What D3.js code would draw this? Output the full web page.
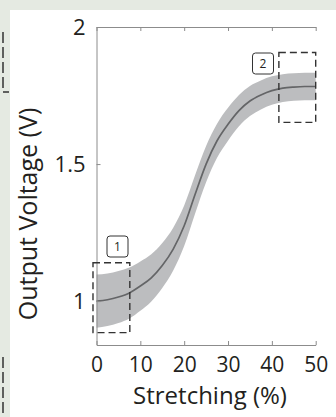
<!DOCTYPE html>
<html>
<head>
<meta charset="utf-8">
<script src="https://cdn.jsdelivr.net/npm/d3@7"></script>
<style>
  html, body { margin: 0; padding: 0; background: #e5eae2; }
  svg { display: block; }
  text { font-family: "Open Sans", sans-serif; fill: #231f20; }
</style>
</head>
<body>
<svg width="336" height="417"></svg>
<script>
// stretching (%) and measured output voltage (V), mean and +/- spread
var strain  = [0, 2.5, 5, 7.5, 10, 12.5, 15, 17.5, 20, 22.5, 25, 27.5, 30, 32.5, 35, 37.5, 40, 42.5, 45, 47.5, 50];
var voltage = [1.000, 1.005, 1.015, 1.030, 1.055, 1.085, 1.130, 1.190, 1.275, 1.390, 1.500, 1.585, 1.645, 1.695, 1.730, 1.752, 1.768, 1.777, 1.781, 1.783, 1.783];
var spread  = [0.097, 0.096, 0.095, 0.093, 0.090, 0.086, 0.082, 0.078, 0.074, 0.070, 0.066, 0.062, 0.060, 0.057, 0.055, 0.053, 0.052, 0.051, 0.050, 0.050, 0.050];

var xTicks = [0, 10, 20, 30, 40, 50];
var yTicks = [1, 1.5, 2];

// zoom boxes: [x0, x1, y0, y1] in data units, and their labels
var boxLabels = ["1", "2"];
var boxes = [[-0.8, 7.6, 0.885, 1.14], [41.6, 50, 1.652, 1.907]];

var svg = d3.select('svg');

// white panel over the greenish page
svg.append('rect').attr('x', 10).attr('y', 10).attr('width', 326).attr('height', 407).attr('fill', '#fff');

// bits of dashed frames from the neighbouring panel
svg.append('path')
  .attr('d', 'M3,32V92H9 M3,357V417')
  .attr('fill', 'none').attr('stroke', '#333').attr('stroke-width', 1.5)
  .attr('stroke-dasharray', '11,4');

var x = d3.scaleLinear().domain([0, 50]).range([96.5, 315.7]);
var y = d3.scaleLinear().domain([0.84, 2]).range([345, 27]);

var data = strain.map(function(s, i){ return {s: s, v: voltage[i], e: spread[i]}; });

var band = d3.area()
  .x(function(d){ return x(d.s) })
  .y0(function(d){ return y(d.v - d.e) })
  .y1(function(d){ return y(d.v + d.e) })
  .curve(d3.curveMonotoneX);

var line = d3.line()
  .x(function(d){ return x(d.s) })
  .y(function(d){ return y(d.v) })
  .curve(d3.curveMonotoneX);

svg.append('path').datum(data).attr('d', band).attr('fill', '#bcbdbf');
svg.append('path').datum(data).attr('d', line)
  .attr('fill', 'none').attr('stroke', '#646567').attr('stroke-width', 1.7);

// axes, ticks pointing inwards
var axBottom = svg.append('g').attr('transform', 'translate(0,' + y(0.84) + ')')
  .call(d3.axisBottom(x).tickValues(xTicks).tickSize(-4).tickSizeOuter(0).tickPadding(12));
var axTop = svg.append('g').attr('transform', 'translate(0,' + y(2) + ')')
  .call(d3.axisTop(x).tickValues(xTicks).tickSize(-4).tickSizeOuter(0).tickFormat(''));
var axLeft = svg.append('g').attr('transform', 'translate(' + x(0) + ',0)')
  .call(d3.axisLeft(y).tickValues(yTicks).tickSize(-4).tickSizeOuter(0).tickPadding(11)
    .tickFormat(function(d){ return d }));

[axBottom, axTop, axLeft].forEach(function(g){
  g.selectAll('path, line').attr('stroke', '#8c8c8c');
  g.selectAll('text').attr('font-size', 22).attr('font-family', '"Open Sans", sans-serif').attr('fill', '#231f20');
});
axBottom.selectAll('text').attr('font-size', 21);
axLeft.selectAll('text').attr('dy', '0.35em');

// dashed zoom boxes with numbered tags
boxes.forEach(function(b){
  svg.append('rect')
    .attr('x', x(b[0])).attr('y', y(b[3]))
    .attr('width', x(b[1]) - x(b[0])).attr('height', y(b[2]) - y(b[3]))
    .attr('fill', 'none').attr('stroke', '#333').attr('stroke-width', 1.4)
    .attr('stroke-dasharray', '7,4');
});
var tagPos = [[107, 236], [252.5, 53]];
boxLabels.forEach(function(t, i){
  var g = svg.append('g').attr('transform', 'translate(' + tagPos[i][0] + ',' + tagPos[i][1] + ')');
  g.append('rect').attr('width', 21).attr('height', 21).attr('rx', 3)
    .attr('fill', '#fff').attr('stroke', '#333').attr('stroke-width', 1);
  g.append('text').attr('x', 10.5).attr('y', 15).attr('text-anchor', 'middle')
    .attr('font-size', 12).text(t);
});

svg.append('text')
  .attr('transform', 'translate(37,214) rotate(-90)')
  .attr('text-anchor', 'middle').attr('font-size', 25)
  .text('Output Voltage (V)');

svg.append('text')
  .attr('x', 210).attr('y', 404)
  .attr('text-anchor', 'middle').attr('font-size', 24)
  .text('Stretching (%)');
</script>
</body>
</html>
